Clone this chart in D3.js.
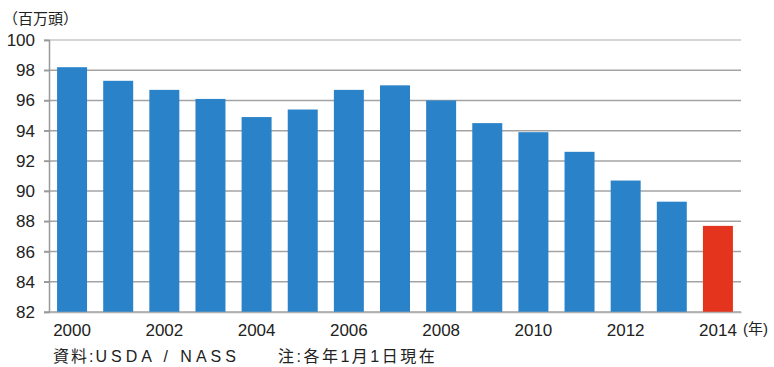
<!DOCTYPE html>
<html>
<head>
<meta charset="utf-8">
<script src="https://cdn.jsdelivr.net/npm/d3@7"></script>
<style>
  body { margin: 0; background: #fff; }
  svg text { font-family: "Liberation Sans", "Noto Sans CJK JP", sans-serif; fill: #222; }
</style>
</head>
<body>
<div id="chart"></div>
<script>
// Cattle inventory, millions of head (as of Jan 1)
const years = ['2000','2001','2002','2003','2004','2005','2006','2007','2008','2009','2010','2011','2012','2013','2014'];
const values = [98.2, 97.3, 96.7, 96.1, 94.9, 95.4, 96.7, 97.0, 96.0, 94.5, 93.9, 92.6, 90.7, 89.3, 87.7];
const yTicks = [82, 84, 86, 88, 90, 92, 94, 96, 98, 100];
const xLabels = ['2000','2002','2004','2006','2008','2010','2012','2014'];

const svgWidth = 774, svgHeight = 367;
const margin = { top: 40, right: 33, bottom: 55, left: 49 };
const width = svgWidth - margin.left - margin.right;
const height = svgHeight - margin.top - margin.bottom;

const svgRoot = d3.select('#chart').append('svg')
    .attr('width', svgWidth)
    .attr('height', svgHeight);

const svg = svgRoot.append('g')
    .attr('transform', `translate(${margin.left},${margin.top})`);

const x = d3.scaleBand().domain(years).range([0, width]).paddingInner(0.35).paddingOuter(0.175);
const y = d3.scaleLinear().domain([82, 100]).range([height, 0]);

// Gridlines
svg.append('g')
    .selectAll('line')
    .data(yTicks)
    .enter()
    .append('line')
    .attr('x1', -5)
    .attr('x2', width)
    .attr('y1', d => y(d))
    .attr('y2', d => y(d))
    .attr('stroke', d => d === 100 ? '#c8c8c8' : '#a3a3a3')
    .attr('stroke-width', 1.5);

// Bars
svg.selectAll('rect.bar')
    .data(values)
    .enter()
    .append('rect')
    .attr('class', 'bar')
    .attr('x', (d, i) => x(years[i]))
    .attr('y', d => y(d))
    .attr('width', x.bandwidth())
    .attr('height', d => height - y(d))
    .attr('fill', (d, i) => i === years.length - 1 ? '#e5341d' : '#2a83c9');

// Y axis
const yAxis = svg.append('g')
    .call(d3.axisLeft(y).tickValues(yTicks).tickSize(5).tickPadding(9));
yAxis.select('.domain').attr('stroke', '#9a9a9a').attr('stroke-width', 1.5);
yAxis.selectAll('.tick line').attr('stroke', '#9a9a9a').attr('stroke-width', 1.5);
yAxis.selectAll('text').style('font-size', '17px').attr('fill', '#222');

// X axis
const xAxis = svg.append('g')
    .attr('transform', `translate(0,${height})`)
    .call(d3.axisBottom(x).tickValues(xLabels).tickSize(0).tickPadding(12));
xAxis.select('.domain').attr('stroke', '#b0b0b0').attr('stroke-width', 1.5);
xAxis.selectAll('text').style('font-size', '17px').attr('fill', '#222');

// Unit labels
svgRoot.append('text')
    .attr('x', 3)
    .attr('y', 24)
    .style('font-size', '15px')
    .text('（百万頭）');

svgRoot.append('text')
    .attr('x', 743)
    .attr('y', 334)
    .style('font-size', '15px')
    .text('(年)');

// Source note
const note = svgRoot.append('text')
    .attr('x', 53)
    .attr('y', 362)
    .style('font-size', '16px');
note.append('tspan').style('letter-spacing', '2px').text('資料:');
note.append('tspan').style('letter-spacing', '4px').text('USDA / NASS');
svgRoot.append('text')
    .attr('x', 278)
    .attr('y', 362)
    .style('font-size', '16px')
    .style('letter-spacing', '2.5px')
    .text('注:各年1月1日現在');
</script>
</body>
</html>
